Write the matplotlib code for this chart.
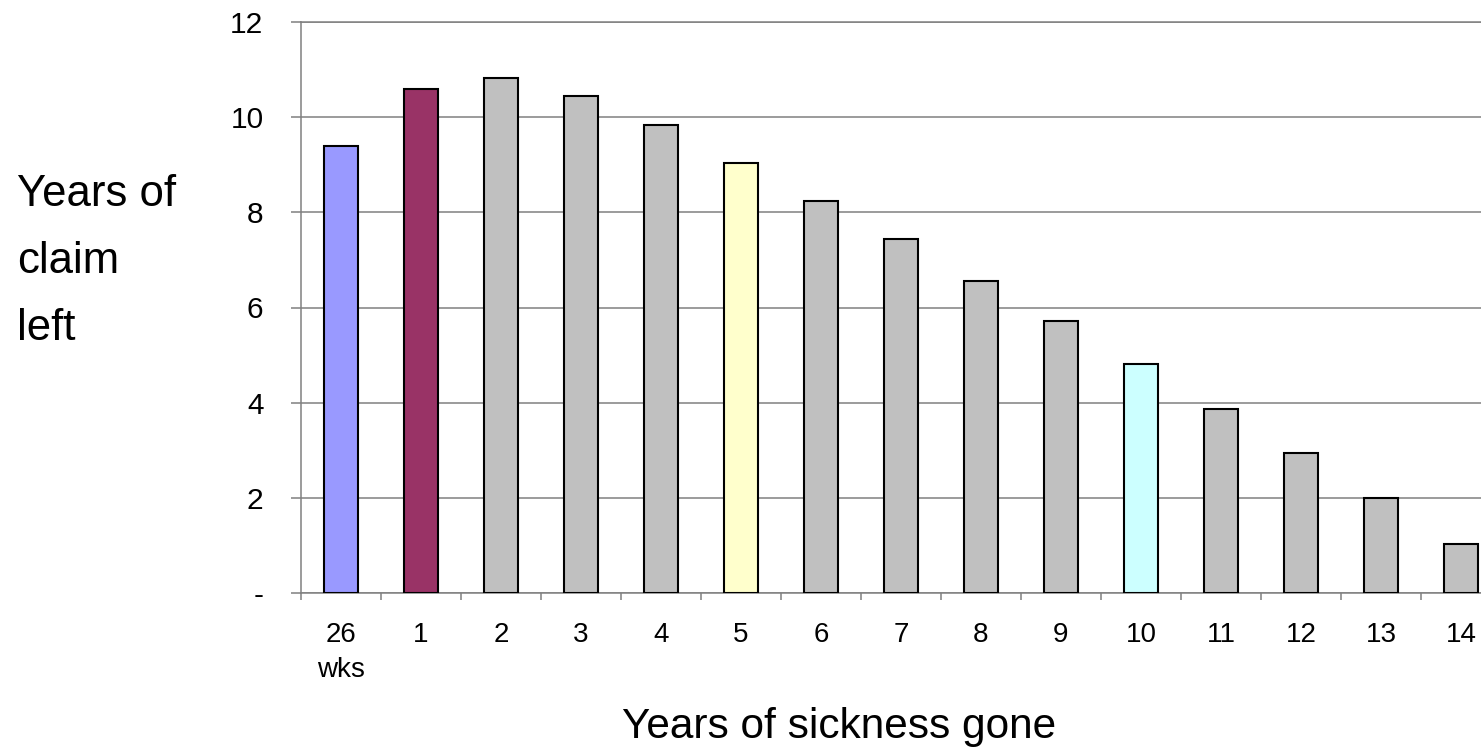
import matplotlib
matplotlib.use("Agg")
import matplotlib.pyplot as plt
from matplotlib.ticker import FixedLocator

plt.rcParams['font.family'] = ['Liberation Sans', 'DejaVu Sans']

# -----------------------------
# data
# -----------------------------
categories = ["26\nwks", "1", "2", "3", "4", "5", "6", "7", "8", "9",
              "10", "11", "12", "13", "14"]
claim_left = [9.40, 10.59, 10.82, 10.45, 9.84, 9.03, 8.24, 7.44, 6.56,
              5.72, 4.81, 3.87, 2.94, 1.99, 1.02]
bar_colors = ["#9999FF", "#993366", "#C0C0C0", "#C0C0C0", "#C0C0C0",
              "#FFFFCC", "#C0C0C0", "#C0C0C0", "#C0C0C0", "#C0C0C0",
              "#CCFFFF", "#C0C0C0", "#C0C0C0", "#C0C0C0", "#C0C0C0"]
y_ticks = [0, 2, 4, 6, 8, 10, 12]
y_tick_labels = ["-", "2", "4", "6", "8", "10", "12"]

W, H = 1481, 747
fig = plt.figure(figsize=(W / 100, H / 100), dpi=100)
# plot area runs past the right edge of the picture, as in the reference
ax = fig.add_axes([301 / W, 154 / H, 1200 / W, 571 / H])

x = list(range(len(categories)))
ax.bar(x, claim_left, width=0.43, color=bar_colors,
       edgecolor="black", linewidth=1.5, zorder=3)

ax.set_xlim(-0.5, len(categories) - 0.5)
ax.set_ylim(0, 12)

grid_col = "#808080"
ax.set_yticks(y_ticks)
ax.set_yticklabels(y_tick_labels, fontsize=21.5)
ax.yaxis.grid(True, color=grid_col, linewidth=1.1, zorder=0)
ax.set_axisbelow(True)
ax.tick_params(axis="y", length=7, width=1.1, color=grid_col, pad=20)

ax.set_xticks(x)
ax.set_xticklabels(categories, fontsize=20, linespacing=1.45)
ax.xaxis.set_minor_locator(FixedLocator([i - 0.5 for i in range(len(categories) + 1)]))
ax.tick_params(axis="x", which="major", length=0, pad=21)
ax.tick_params(axis="x", which="minor", length=5, width=1.1, color=grid_col)

for side in ["left", "bottom", "top"]:
    ax.spines[side].set_color(grid_col)
    ax.spines[side].set_linewidth(1.1)
ax.spines["right"].set_visible(False)

fig.text(17 / W, 1 - 340 / H, "Years of\nclaim\nleft", fontsize=31.5,
         ha="left", va="baseline", linespacing=1.82)
fig.text(622 / W, 1 - 738 / H, "Years of sickness gone", fontsize=30.5,
         ha="left", va="baseline")

fig.savefig("out.png", dpi=100)
